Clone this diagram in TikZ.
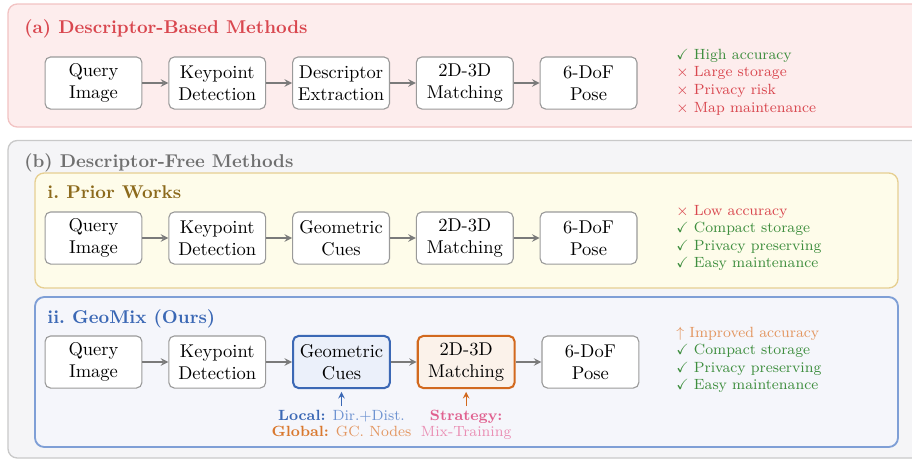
\documentclass[tikz,border=0pt]{standalone}
\usepackage{amssymb}
\usetikzlibrary{positioning,arrows}

\definecolor{redline}{HTML}{F2C3C3}
\definecolor{redfill}{HTML}{FDEDED}
\definecolor{redtext}{HTML}{D9474F}
\definecolor{grayline}{HTML}{C9C9C9}
\definecolor{grayfill}{HTML}{F5F5F7}
\definecolor{graytext}{HTML}{707070}
\definecolor{yelline}{HTML}{E6CF92}
\definecolor{yelfill}{HTML}{FEFCEA}
\definecolor{yeltext}{HTML}{8C6A1C}
\definecolor{blueline}{HTML}{7F9FD6}
\definecolor{bluefill}{HTML}{F5F6FB}
\definecolor{bluetext}{HTML}{3B68B5}
\definecolor{bluelight}{HTML}{6E93D1}
\definecolor{geofill}{HTML}{EBF0FA}
\definecolor{orangeline}{HTML}{D2691E}
\definecolor{orangefill}{HTML}{FBF2EA}
\definecolor{orangetext}{HTML}{D9782E}
\definecolor{orangelight}{HTML}{E39660}
\definecolor{pinktext}{HTML}{E0608F}
\definecolor{pinklight}{HTML}{EA8FB4}
\definecolor{goodgreen}{HTML}{3E8E3E}
\definecolor{boxgray}{HTML}{9A9A9A}
\definecolor{arrowgray}{HTML}{7A7A7A}

\begin{document}
\begin{tikzpicture}[x=0.019cm,y=-0.019cm,
	stepbox/.style={draw=boxgray,fill=white,rounded corners=3pt,line width=0.6pt,
		minimum width=1.84cm,minimum height=0.99cm,align=center,inner sep=1pt},
	flow/.style={draw=arrowgray,line width=0.8pt,-stealth},
	hint/.style={line width=0.6pt,-stealth,shorten <=1pt,shorten >=1.5pt},
	panel/.style={rounded corners=5pt,line width=0.7pt},
	title/.style={anchor=base west,inner sep=0pt,font=\bfseries},
	perks/.style={anchor=west,align=left,inner sep=0pt,font=\footnotesize},
	note/.style={align=center,inner sep=1pt,font=\fontsize{8}{8.8}\selectfont},
	node distance=0.49cm]
	\useasboundingbox (0,0) rectangle (912,459);
	\clip (0,0) rectangle (912,459);
	% panels
	\draw[panel,draw=redline,fill=redfill] (8,4) rectangle (930,127);
	\draw[panel,draw=grayline,fill=grayfill] (8,140.5) rectangle (930,458);
	\draw[panel,draw=yelline,fill=yelfill] (35,173) rectangle (898,288);
	\draw[panel,draw=blueline,fill=bluefill,line width=1pt] (35,297) rectangle (898,447);
	% titles
	\node[title,text=redtext] (titleA) at (24,33) {(a) Descriptor-Based Methods};
	\node[title,text=graytext] (titleB) at (24,167) {(b) Descriptor-Free Methods};
	\node[title,text=yeltext] (titleI) at (47,198) {i.\ Prior Works};
	\node[title,text=bluetext] (titleII) at (47,323) {ii.\ GeoMix (Ours)};
	% descriptor-based pipeline
	\node[stepbox] (qimgA) at (93.5,83) {Query\\Image};
	\node[stepbox,right=of qimgA] (kptA) {Keypoint\\Detection};
	\node[stepbox,right=of kptA] (descA) {Descriptor\\Extraction};
	\node[stepbox,right=of descA] (matchA) {2D-3D\\Matching};
	\node[stepbox,right=of matchA] (poseA) {6-DoF\\Pose};
	% prior works pipeline
	\node[stepbox] (qimgB) at (93.5,238) {Query\\Image};
	\node[stepbox,right=of qimgB] (kptB) {Keypoint\\Detection};
	\node[stepbox,right=of kptB] (geoB) {Geometric\\Cues};
	\node[stepbox,right=of geoB] (matchB) {2D-3D\\Matching};
	\node[stepbox,right=of matchB] (poseB) {6-DoF\\Pose};
	% geomix pipeline
	\node[stepbox] (qimgC) at (93.5,362) {Query\\Image};
	\node[stepbox,right=of qimgC] (kptC) {Keypoint\\Detection};
	\node[stepbox,right=of kptC,draw=bluetext,fill=geofill,line width=1.1pt] (geoC) {Geometric\\Cues};
	\node[stepbox,right=of geoC,draw=orangeline,fill=orangefill,line width=1.1pt] (matchC) {2D-3D\\Matching};
	\node[stepbox,right=of matchC] (poseC) {6-DoF\\Pose};
	% arrows
	\draw[flow] (qimgA) -- (kptA); \draw[flow] (kptA) -- (descA);
	\draw[flow] (descA) -- (matchA); \draw[flow] (matchA) -- (poseA);
	\draw[flow] (qimgB) -- (kptB); \draw[flow] (kptB) -- (geoB);
	\draw[flow] (geoB) -- (matchB); \draw[flow] (matchB) -- (poseB);
	\draw[flow] (qimgC) -- (kptC); \draw[flow] (kptC) -- (geoC);
	\draw[flow] (geoC) -- (matchC); \draw[flow] (matchC) -- (poseC);
	% pros and cons
	\node[perks] (listA) at (676,82) {\textcolor{goodgreen}{$\checkmark$ High accuracy}\\
		\textcolor{redtext}{$\times$ Large storage}\\
		\textcolor{redtext}{$\times$ Privacy risk}\\
		\textcolor{redtext}{$\times$ Map maintenance}};
	\node[perks] (listB) at (676,238) {\textcolor{redtext}{$\times$ Low accuracy}\\
		\textcolor{goodgreen}{$\checkmark$ Compact storage}\\
		\textcolor{goodgreen}{$\checkmark$ Privacy preserving}\\
		\textcolor{goodgreen}{$\checkmark$ Easy maintenance}};
	\node[perks] (listC) at (676,360) {\textcolor{orangelight}{$\uparrow$ Improved accuracy}\\
		\textcolor{goodgreen}{$\checkmark$ Compact storage}\\
		\textcolor{goodgreen}{$\checkmark$ Privacy preserving}\\
		\textcolor{goodgreen}{$\checkmark$ Easy maintenance}};
	% annotations
	\node[note,below=0.36cm of geoC] (geoNote) {\textcolor{bluetext}{\textbf{Local:}} \textcolor{bluelight}{Dir.+Dist.}\\
		\textcolor{orangetext}{\textbf{Global:}} \textcolor{orangelight}{GC. Nodes}};
	\node[note,below=0.36cm of matchC] (mixNote) {\textcolor{pinktext}{\textbf{Strategy:}}\\
		\textcolor{pinklight}{Mix-Training}};
	\draw[hint,bluetext] (geoNote) -- (geoC);
	\draw[hint,orangeline] (mixNote) -- (matchC);
\end{tikzpicture}
\end{document}
